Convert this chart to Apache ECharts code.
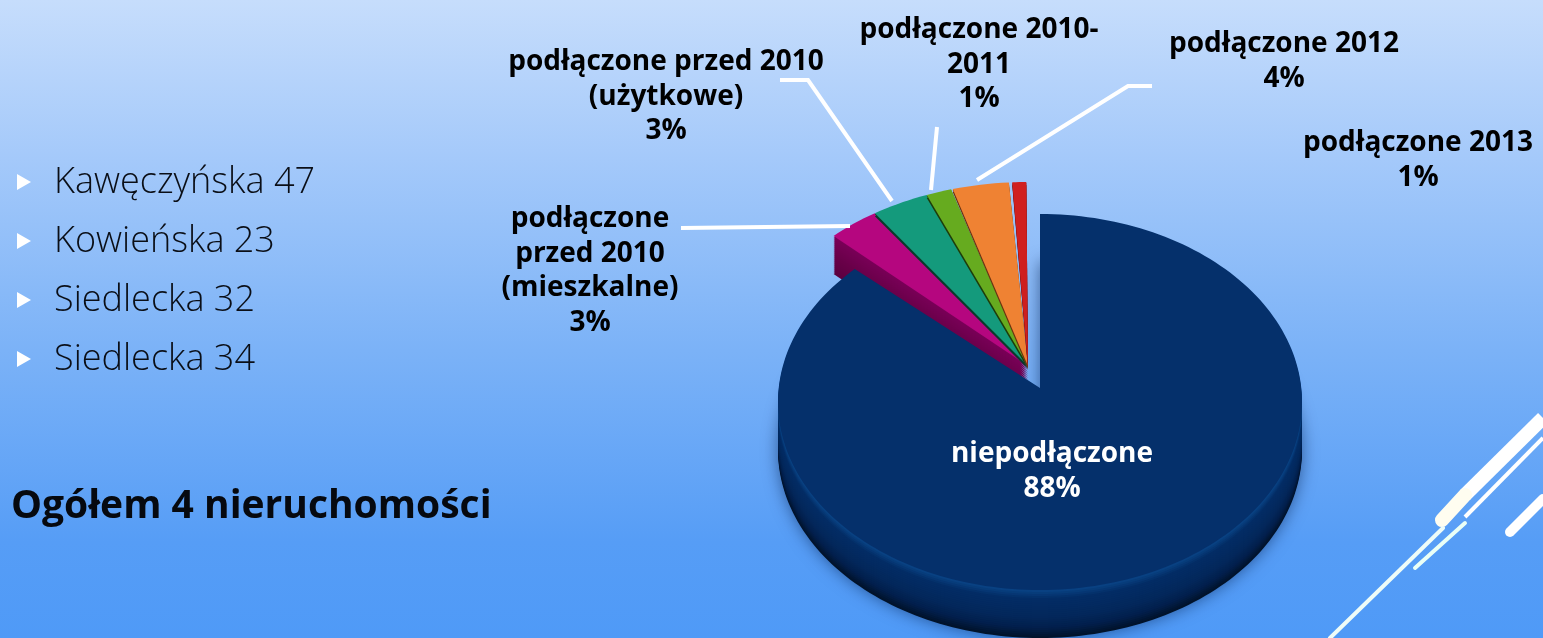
<!DOCTYPE html>
<html><head><meta charset="utf-8">
<style>html,body{margin:0;padding:0;background:#7fb2f8}#c{width:1543px;height:638px}</style>
<script src="https://cdn.jsdelivr.net/npm/echarts@6/dist/echarts.min.js"></script>
</head><body><div id="c"></div>
<script>
const categories = ['niepodłączone','podłączone\nprzed 2010\n(mieszkalne)','podłączone przed 2010\n(użytkowe)','podłączone 2010-\n2011','podłączone 2012','podłączone 2013'];
const values = [87.5, 3.1, 3.4, 1.49, 3.5, 1.01];
const addresses = ['Kawęczyńska 47','Kowieńska 23','Siedlecka 32','Siedlecka 34'];
const summary = 'Ogółem 4 nieruchomości';

const faceColors = ['#05306b','#b5067f','#149a7c','#66ab1f','#ef8233','#d0201f'];
const rimColors = [['#01132b','#021f4c','#03275a','#032a60','#032c65','#0a4789'],['#5c0040','#6a004a','#7a0058'],['#0a3a2c','#0a3a2c','#0a3a2c'],['#1e3d0a','#1e3d0a','#1e3d0a'],['#6b3410','#6b3410','#6b3410'],['#6e0808','#6e0808','#6e0808']];
const depths = [48,38,3,3,3,3];
const layerOrder = [6,1,2,3,4,5];
const navyShape = {ax:1040,ay:388,cx:1040,cy:402,rx:262,ry:188};
const groupShape = {ax:1028,ay:366,cx:1028,cy:366,rx:275,ry:184};
const labelPos = [[1052,437],[590,202],[666,45],[979,13],[1284,27],[1418,126]];
const labelFont = '"Open Sans", sans-serif';

const total = values.reduce((a,b)=>a+b,0);
function wedge(g,a0,a1,dy){
  const pts=[[g.ax,g.ay+dy]];
  const n=Math.max(4,Math.ceil((a1-a0)/1.5));
  for(let i=0;i<=n;i++){
    const t=(a0+(a1-a0)*i/n)*Math.PI/180;
    pts.push([g.cx+g.rx*Math.sin(t),g.cy-g.ry*Math.cos(t)+dy]);
  }
  return pts;
}
function renderSlice(params,api){
  const i=params.dataIndex;
  let before=0; for(let k=0;k<i;k++) before+=values[k];
  const scale=v=>echarts.number.linearMap(v,[0,total],[0,360]);
  const gap=i>=4?0.35:0;
  const a0=scale(before)+gap, a1=scale(before+api.value(0))-gap;
  const g=i===0?navyShape:groupShape;
  const children=[];
  const d=depths[i];
  for(let y=d;y>0;y-=2){
    const t=1-y/d;
    children.push({type:'polygon',z2:layerOrder[i]*100+(d-y),
      shape:{points:wedge(g,a0,a1,y)},
      style:{fill:echarts.color.lerp(t,rimColors[i]),
        shadowBlur:(i===0&&y===d)?16:0,shadowColor:'rgba(0,25,70,0.55)'}});
  }
  children.push({type:'polygon',z2:layerOrder[i]*100+90,shape:{points:wedge(g,a0,a1,0)},style:{fill:faceColors[i]}});
  const pct=Math.round(api.value(0));
  children.push({type:'text',z2:1000,x:labelPos[i][0],y:labelPos[i][1],
    style:{text:categories[i]+'\n'+pct+'%',align:'center',verticalAlign:'top',
      fill:i===0?'#ffffff':'#000000',font:'bold 28px '+labelFont,lineHeight:34.5}});
  return {type:'group',children};
}
const leaders=[
  [[681,228],[850,226]],
  [[780,80],[808,80],[892,201]],
  [[937,127],[931,190]],
  [[1152,86],[1128,86],[977,180]]
];
const deco=[
  [[1543,418],[1465,495],14,'#ffffff','butt'],[[1465,495],[1442,520],14,'#fffdf0','round'],
  [[1543,438],[1465,517],4,'#ffffff','butt'],[[1465,523],[1415,568],4,'#eafff6','round'],
  [[1443,528],[1330,638],4,'#eefcf8','round'],
  [[1543,499],[1510,532],10,'#ffffff','round']
];
const graphics=[];
leaders.forEach(p=>graphics.push({type:'polyline',z:10,silent:true,shape:{points:p},style:{stroke:'#ffffff',lineWidth:4,fill:null}}));
deco.forEach(s=>graphics.push({type:'line',z:10,silent:true,shape:{x1:s[0][0],y1:s[0][1],x2:s[1][0],y2:s[1][1]},style:{stroke:s[3],lineWidth:s[2],lineCap:s[4]}}));
addresses.forEach((t,i)=>{
  const y=182+i*59;
  graphics.push({type:'polygon',z:10,silent:true,shape:{points:[[17,y-8],[31,y],[17,y+8]]},style:{fill:'#ffffff'}});
  graphics.push({type:'text',z:10,silent:true,x:54,y:y+1,style:{text:t,font:'300 36px "Open Sans", sans-serif',fill:'#0a0e16',verticalAlign:'middle'}});
});
graphics.push({type:'text',z:10,silent:true,x:11,y:507,style:{text:summary,font:'bold 39px "Open Sans", sans-serif',fill:'#06090f',verticalAlign:'middle'}});

const chart=echarts.init(document.getElementById('c'),null,{renderer:'canvas'});
chart.setOption({
  animation:false,
  backgroundColor:new echarts.graphic.LinearGradient(0,0,0,1,[
    {offset:0,color:'#c6ddfc'},{offset:0.25,color:'#a4c9fa'},{offset:0.55,color:'#7bb2f7'},{offset:0.85,color:'#569df6'},{offset:1,color:'#4f9af7'}]),
  graphic:graphics,
  series:[{type:'custom',coordinateSystem:'none',silent:true,clip:false,renderItem:renderSlice,
    data:values.map((v,i)=>({name:categories[i],value:[v]}))}]
});
</script></body></html>
